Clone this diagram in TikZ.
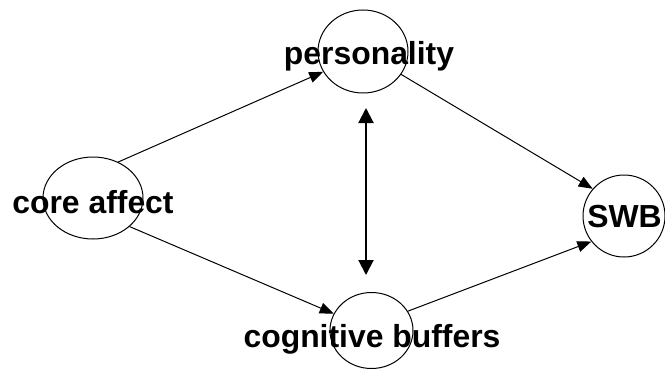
\documentclass[tikz,border=0pt]{standalone}
\usepackage{fontspec}
\setmainfont{Liberation Sans}
\usetikzlibrary{positioning,arrows.meta,shapes.geometric}

\tikzset{
	bubble/.style={draw, ellipse, inner sep=0pt, line width=1bp},
	tag/.style={anchor=base, inner sep=0pt, font=\fontsize{32}{32}\selectfont\bfseries},
	link/.style={line width=1bp, -{Triangle[length=14bp,width=11bp]}},
	mutual/.style={line width=2bp, {Triangle[length=15bp,width=15bp]}-{Triangle[length=15bp,width=15bp]}},
}

\begin{document}
\begin{tikzpicture}[x=1bp, y=1bp]
	\useasboundingbox (0,0) rectangle (665,369);

	\node[bubble, minimum width=100bp, minimum height=82bp] (core) at (93,171) {};
	\node[bubble, minimum width=90bp, minimum height=83bp, on grid, above right=146.5bp and 270bp of core] (pers) {};
	\node[bubble, minimum width=83bp, minimum height=76bp, on grid, below right=132.5bp and 278.5bp of core] (cog) {};
	\node[bubble, minimum width=82bp, minimum height=82bp, on grid, below right=164.5bp and 261bp of pers] (swb) {};

	\path (core) ++(0,-15) node[tag] (coreText) {core affect};
	\path (pers) ++(6,-13.5) node[tag] (persText) {personality};
	\path (cog) ++(0.5,-16.5) node[tag] (cogText) {cognitive buffers};
	\path (swb) ++(0.5,-11) node[tag] (swbText) {SWB};

	\draw[link] (core.55) -- (pers.207);
	\draw[link] (core.-38) -- (cog.156);
	\draw[link] (pers.-31) -- (swb.139);
	\draw[link] (cog.28) -- (swb.218);

	% two-way arrow between personality and cognitive buffers
	\coordinate (pairTop) at (366,261);
	\coordinate (pairBot) at (366,94);
	\draw[mutual] (pairTop) -- (pairBot);
\end{tikzpicture}
\end{document}
